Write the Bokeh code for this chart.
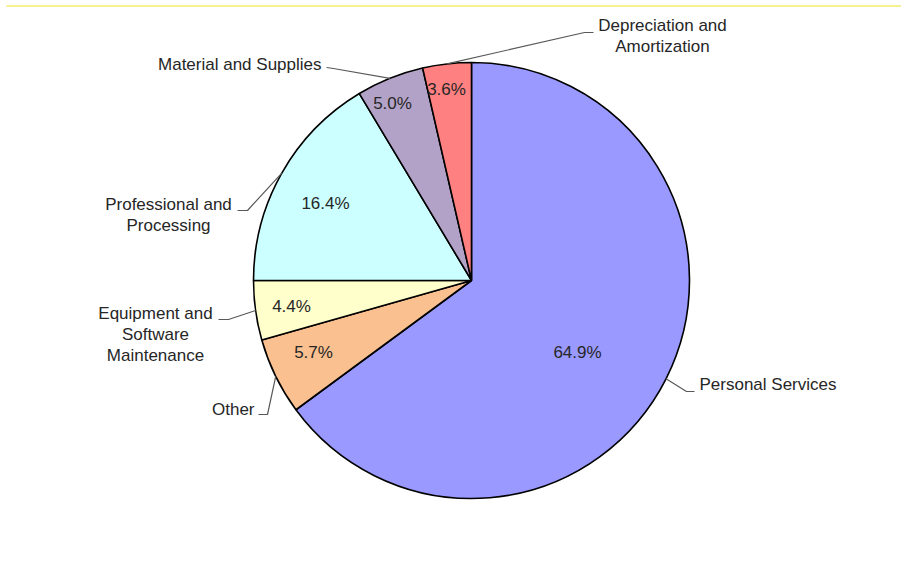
import math
from bokeh.plotting import figure
from bokeh.models import Range1d, ColumnDataSource
from bokeh.core.properties import value
from bokeh.embed import file_html
from bokeh.resources import INLINE

# ---- data ----
categories = ["Personal Services", "Other", "Equipment and\nSoftware\nMaintenance",
              "Professional and\nProcessing", "Material and Supplies",
              "Depreciation and\nAmortization"]
shares = [64.9, 5.7, 4.4, 16.4, 5.0, 3.6]
colors = ["#9999FF", "#FAC090", "#FFFFCC", "#CCFFFF", "#B3A2C7", "#FF8080"]

# ---- layout (image pixel coordinates, y downward) ----
W, H = 901, 558
CX, CY, R = 471, 280, 218
pct_pos = [(577, 352), (313, 352), (291, 306), (325, 203), (392, 103), (446, 89)]
leader_mid = [(686, 391), (267, 414), (228, 319), (247, 210), (333, 68), (584, 32)]
leader_end = [(694, 391), (258, 414), (218, 319), (237, 210), (326, 67), (593, 32)]
lab_pos = [(699, 384), (254, 409), (155, 334), (168, 214.5), (321, 64), (662, 35.5)]
lab_align = ["left", "right", "center", "center", "right", "center"]

FONT = "Liberation Sans"
TXT = "#262626"
FS = "17px"

p = figure(width=W, height=H, output_backend="svg", toolbar_location=None,
           x_range=Range1d(0, W), y_range=Range1d(-H, 0),
           min_border=0, outline_line_color=None)
p.axis.visible = False
p.xgrid.visible = False
p.ygrid.visible = False
p.background_fill_color = "white"

# thin top rule
p.line(x=[6, W], y=[-5.5, -5.5], line_color="#F2EE6A", line_width=1.5)

total = sum(shares)
starts, ends, mids = [], [], []
cum = 0.0
for v in shares:
    a0 = math.pi / 2 - 2 * math.pi * cum / total
    cum += v
    a1 = math.pi / 2 - 2 * math.pi * cum / total
    starts.append(a0)
    ends.append(a1)
    mids.append((a0 + a1) / 2)

src = ColumnDataSource(dict(start=starts, end=ends, color=colors,
                            x=[CX] * len(shares), y=[-CY] * len(shares)))
p.wedge(x="x", y="y", radius=R, start_angle="start", end_angle="end",
        direction="clock", fill_color="color", line_color="black",
        line_width=1.6, source=src)

# percentage labels
p.text(x=[q[0] for q in pct_pos], y=[-q[1] for q in pct_pos],
       text=[f"{v:.1f}%" for v in shares], text_align="center",
       text_baseline="middle", text_font=value(FONT), text_font_size=FS,
       text_color=TXT)

# leader lines
xs, ys = [], []
for m, mid, end in zip(mids, leader_mid, leader_end):
    ex = CX + R * math.cos(m)
    ey = CY - R * math.sin(m)
    xs.append([ex, mid[0], end[0]])
    ys.append([-ey, -mid[1], -end[1]])
p.multi_line(xs=xs, ys=ys, line_color="#595959", line_width=1.2)

# category labels
for cat, pos, al in zip(categories, lab_pos, lab_align):
    p.text(x=[pos[0]], y=[-pos[1]], text=[cat], text_align=al,
           text_baseline="middle", text_font=value(FONT),
           text_font_size=FS, text_color=TXT, text_line_height=1.08)

open("out.html", "w").write(file_html(p, INLINE))
